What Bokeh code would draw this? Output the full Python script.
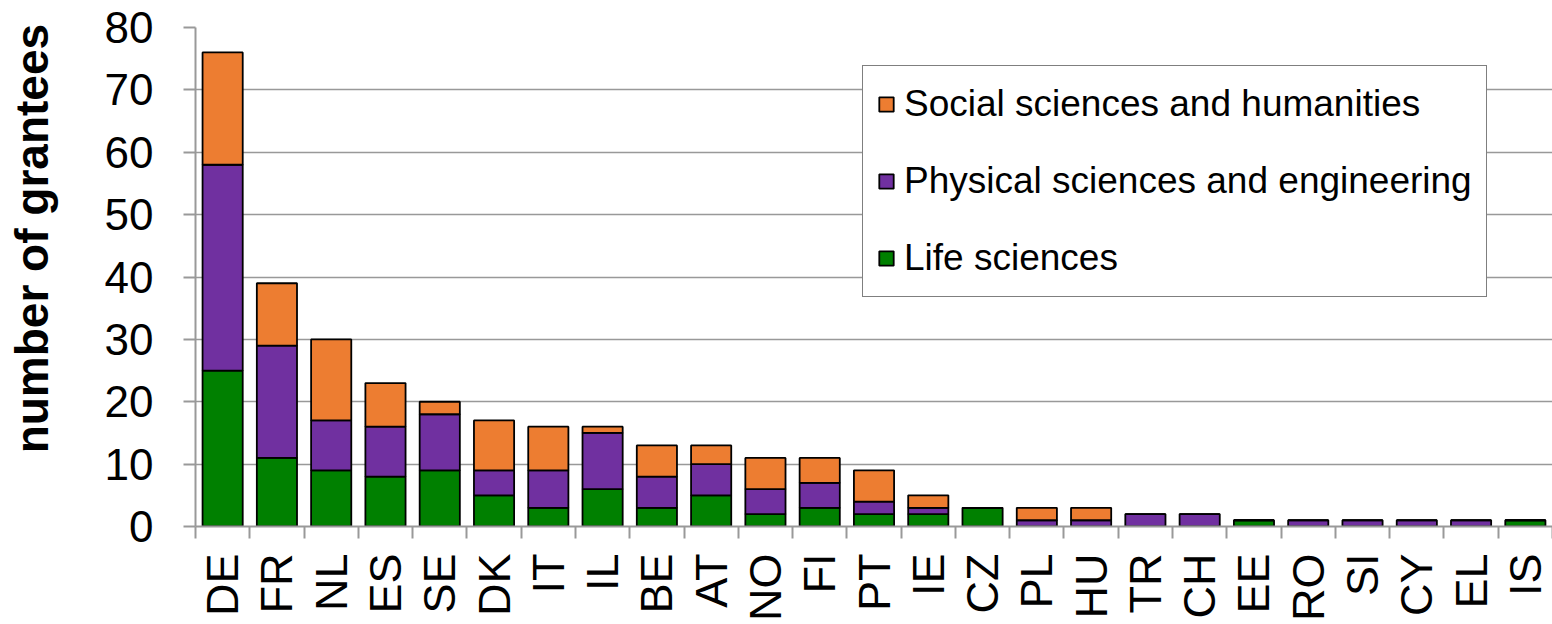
import math
from bokeh.plotting import figure
from bokeh.models import ColumnDataSource, FixedTicker, Legend, LegendItem, Range1d
from bokeh.embed import file_html
from bokeh.resources import INLINE

countries = ["DE", "FR", "NL", "ES", "SE", "DK", "IT", "IL", "BE", "AT", "NO",
             "FI", "PT", "IE", "CZ", "PL", "HU", "TR", "CH", "EE", "RO", "SI",
             "CY", "EL", "IS"]
life_sciences = [25, 11, 9, 8, 9, 5, 3, 6, 3, 5, 2, 3, 2, 2, 3, 0, 0, 0, 0, 1,
                 0, 0, 0, 0, 1]
physical_sciences = [33, 18, 8, 8, 9, 4, 6, 9, 5, 5, 4, 4, 2, 1, 0, 1, 1, 2, 2,
                     0, 1, 1, 1, 1, 0]
social_sciences = [18, 10, 13, 7, 2, 8, 7, 1, 5, 3, 5, 4, 5, 2, 0, 2, 2, 0, 0,
                   0, 0, 0, 0, 0, 0]
series_names = ["Life sciences", "Physical sciences and engineering",
                "Social sciences and humanities"]
y_ticks = [0, 10, 20, 30, 40, 50, 60, 70, 80]
y_title = "number of grantees"

GREEN = "#008000"
PURPLE = "#7030A0"
ORANGE = "#ED7D31"
GRAY = "#999999"
FONT = "Liberation Sans"

n = len(countries)
xs = list(range(n))
source = ColumnDataSource(dict(x=xs, life=life_sciences,
                               phys=physical_sciences, soc=social_sciences))

p = figure(width=1552, height=624, x_range=Range1d(-0.5, n - 0.5),
           y_range=Range1d(0, 80), output_backend="svg",
           toolbar_location=None, min_border_left=195, min_border_right=0,
           min_border_top=27, min_border_bottom=98)
p.outline_line_color = None

rs = p.vbar_stack(["life", "phys", "soc"], x="x", width=0.74,
                  fill_color=[GREEN, PURPLE, ORANGE], line_color="black",
                  line_width=1.8, source=source)

# x axis
xa = p.xaxis[0]
xa.ticker = FixedTicker(ticks=xs, minor_ticks=[i - 0.5 for i in range(n + 1)])
xa.major_label_overrides = {i: c for i, c in zip(xs, countries)}
xa.major_label_orientation = math.pi / 2
xa.major_tick_line_color = None
xa.major_tick_out = 0
xa.major_tick_in = 0
xa.minor_tick_out = 12
xa.minor_tick_in = 0
xa.minor_tick_line_color = GRAY
xa.minor_tick_line_width = 2
xa.axis_line_color = GRAY
xa.axis_line_width = 2
xa.major_label_standoff = 15
xa.major_label_text_font = FONT
xa.major_label_text_font_size = "45px"
xa.major_label_text_color = "black"

# y axis
ya = p.yaxis[0]
ya.ticker = FixedTicker(ticks=y_ticks)
ya.major_tick_out = 12
ya.major_tick_in = 0
ya.major_tick_line_color = GRAY
ya.major_tick_line_width = 2
ya.minor_tick_line_color = None
ya.axis_line_color = GRAY
ya.axis_line_width = 2
ya.major_label_standoff = 30
ya.major_label_text_font = FONT
ya.major_label_text_font_size = "44px"
ya.major_label_text_color = "black"
# leading no-break spaces shift the centred title up, as in the reference
ya.axis_label = "\u00a0" * 6 + y_title
ya.axis_label_text_font = FONT
ya.axis_label_text_font_size = "46px"
ya.axis_label_text_font_style = "bold"
ya.axis_label_text_color = "black"
ya.axis_label_standoff = 44

p.xgrid.grid_line_color = None
p.ygrid.ticker = FixedTicker(ticks=y_ticks)
p.ygrid.grid_line_color = GRAY
p.ygrid.grid_line_width = 1.5

legend = Legend(items=[LegendItem(label=series_names[i], renderers=[rs[i]])
                       for i in (2, 1, 0)],
                location=(667, 229), orientation="vertical",
                glyph_width=18, glyph_height=18, label_height=48,
                spacing=29, padding=14, margin=0, label_standoff=9,
                label_text_font=FONT, label_text_font_size="37px",
                label_text_color="black", border_line_color="black",
                border_line_width=1.5, background_fill_color="white",
                background_fill_alpha=1.0)
p.add_layout(legend, "center")

open("out.html", "w").write(file_html(p, INLINE))
